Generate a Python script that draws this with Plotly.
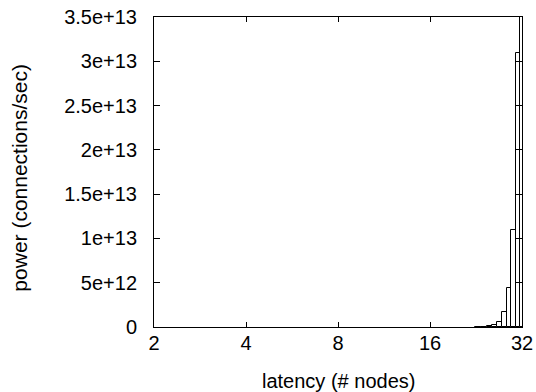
import numpy as np
import plotly.graph_objects as go

# data: latency (# nodes) and power (connections/sec)
nodes = [23, 24, 25, 26, 27, 28, 29, 30, 31, 32]
power = [1.0e10, 3.0e10, 8.0e10, 1.9e11, 5.3e11, 1.66e12, 4.37e12, 1.10e13, 3.09e13, 8.5e13]
x_tick_labels = [2, 4, 8, 16, 32]
y_tick_vals = [0, 5e12, 1e13, 1.5e13, 2e13, 2.5e13, 3e13, 3.5e13]
y_tick_text = ["0", "5e+12", "1e+13", "1.5e+13", "2e+13", "2.5e+13", "3e+13", "3.5e+13"]
x_title = "latency (# nodes)"
y_title = "power (connections/sec)"

n = np.array(nodes, dtype=float)
left = np.log2(n - 0.5)
right = np.log2(n + 0.5)
centers = (left + right) / 2
widths = right - left

fig = go.Figure()
fig.add_trace(go.Bar(
    x=centers, y=power, width=widths,
    marker=dict(color="white", line=dict(color="black", width=1)),
    showlegend=False, hoverinfo="skip",
))

font = "Liberation Sans, Arial, sans-serif"
fig.update_layout(
    width=536, height=392,
    margin=dict(l=154, r=14, t=17, b=65),
    plot_bgcolor="white", paper_bgcolor="white",
    font=dict(family=font, size=20, color="black"),
    bargap=0,
)
fig.update_xaxes(
    range=[1, 5],
    tickvals=list(np.log2(x_tick_labels)),
    ticktext=[str(v) for v in x_tick_labels],
    ticks="inside", ticklen=5, tickcolor="black", tickwidth=1,
    showline=True, linecolor="black", linewidth=1, mirror="ticks",
    showgrid=False, zeroline=False, automargin=False,
    tickfont=dict(size=20),
    ticklabelstandoff=-2,
)
fig.update_yaxes(
    range=[0, 3.5e13],
    tickvals=y_tick_vals, ticktext=y_tick_text,
    ticks="inside", ticklen=6, tickcolor="black", tickwidth=1,
    showline=True, linecolor="black", linewidth=1, mirror="ticks",
    showgrid=False, zeroline=False, automargin=False,
    tickfont=dict(size=20),
    ticklabelstandoff=12,
)
fig.add_annotation(
    text=x_title, xref="paper", yref="paper", x=0.5, y=-0.1735,
    xanchor="center", yanchor="middle", showarrow=False,
    font=dict(size=20),
)
fig.add_annotation(
    text=y_title, xref="paper", yref="paper", x=-0.364, y=0.482,
    xanchor="center", yanchor="middle", showarrow=False, textangle=-90,
    font=dict(size=21),
)

fig.write_html(
    "out.html",
    config={"displayModeBar": False},
    post_script="document.body.style.margin='0';document.body.style.padding='0';",
)
